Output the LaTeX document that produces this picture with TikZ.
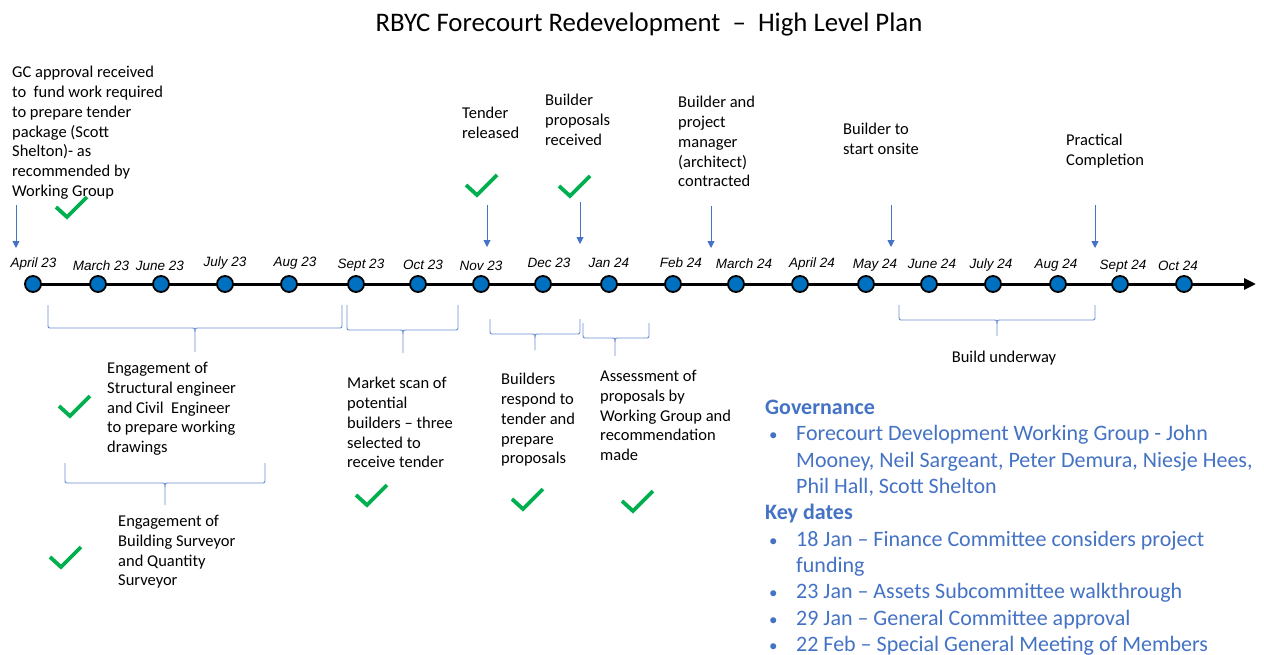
\documentclass[tikz,border=0pt]{standalone}
\usepackage{fontspec}
\setmainfont{Carlito}
\newfontfamily\datefont{Liberation Sans}
\usetikzlibrary{arrows.meta}
\definecolor{dotblue}{HTML}{0070C0}
\definecolor{linkblue}{HTML}{4472C4}
\definecolor{tickgreen}{HTML}{00B050}

% curly bracket hanging under a span: x-left, x-right, x-tip, y-top, y-bar, y-tip
\newcommand{\spanbrace}[6]{%
  \draw[bracestyle] (#1,#4) -- (#1,{#5-4}) .. controls (#1,#5) .. ({#1+4},#5)
    -- ({#3-4},#5) .. controls (#3,#5) .. (#3,{#5+4}) -- (#3,#6);
  \draw[bracestyle] (#2,#4) -- (#2,{#5-4}) .. controls (#2,#5) .. ({#2-4},#5)
    -- ({#3+4},#5) .. controls (#3,#5) .. (#3,{#5+4});
}

\begin{document}
\begin{tikzpicture}[x=1pt,y=-1pt,
  dot/.style={circle, fill=dotblue, draw=black, line width=1.8pt, minimum size=16pt, inner sep=0pt},
  datelbl/.style={font=\datefont\itshape\fontsize{13.5}{15}\selectfont, inner sep=0pt},
  note/.style={font=\fontsize{16.5}{19.8}\selectfont, align=left, anchor=north west, inner sep=0pt},
  pointer/.style={draw=linkblue, line width=0.9pt, -{Triangle[width=7pt,length=7pt]}},
  bracestyle/.style={draw=linkblue!80, line width=0.9pt},
  tick/.pic={\draw[tickgreen, line width=3.8pt] (-11,-10) -- (0,0) -- (20,-20);}
]
\clip (0,0) rectangle (1264,654);
\fill[white] (0,0) rectangle (1264,654);

% title
\node[inner sep=0pt] (title) at (649,24) {\fontsize{26.8}{30}\selectfont RBYC Forecourt Redevelopment\ \ –\ \ High Level Plan};

% timeline axis
\coordinate (tlstart) at (33,284);
\coordinate (tlend) at (1256,284);
\draw[line width=3pt, -{Triangle[width=11pt,length=12pt]}] (tlstart) -- (tlend);

% month markers and their labels
\foreach \x/\lx/\ly/\t [count=\i] in {
  33/33.5/264/April 23, 98/101/266/March 23, 161/160/266/June 23,
  225/225/263/July 23, 289/295/263/Aug 23, 356/361/265/Sept 23,
  418/423/265/Oct 23, 481/481/266/Nov 23, 543/549/263/Dec 23,
  609/609/263/Jan 24, 673/681/263/Feb 24, 736/744/264/March 24,
  800/812/264/April 24, 866/875/265/May 24, 929/932/264/June 24,
  993/991/265/July 24, 1058/1056/265/Aug 24, 1120/1123/266/Sept 24,
  1184/1178/266/Oct 24} {
  \node[dot] (m\i) at (\x,284) {};
  \node[datelbl] (l\i) at (\lx,\ly) {\t};
}

% milestone notes above the axis
\node[note] (gc) at (12,66) {GC approval received\\to\ \ fund work required\\to prepare tender\\package (Scott\\Shelton)- as\\recommended by\\Working Group};
\node[note] (tender) at (462,107) {Tender\\released};
\node[note] (props) at (545,94) {Builder\\proposals\\received};
\node[note] (contract) at (678,96) {Builder and\\project\\manager\\(architect)\\contracted};
\node[note] (onsite) at (843,123) {Builder to\\start onsite};
\node[note] (complete) at (1066,134) {Practical\\Completion};

% pointers to the axis
\coordinate (p1s) at (16,205);   \coordinate (p1e) at (16,248);
\coordinate (p2s) at (487,205);  \coordinate (p2e) at (487,247);
\coordinate (p3s) at (580,202);  \coordinate (p3e) at (580,244);
\coordinate (p4s) at (711,206);  \coordinate (p4e) at (711,248);
\coordinate (p5s) at (891,205);  \coordinate (p5e) at (891,247);
\coordinate (p6s) at (1095,205); \coordinate (p6e) at (1095,248);
\foreach \k in {1,...,6} {\draw[pointer] (p\k s) -- (p\k e);}

% activity spans below the axis
\spanbrace{48}{342}{195}{305}{328}{352}
\spanbrace{347}{458}{403}{305}{330}{353}
\spanbrace{490}{580}{535}{319}{334}{350}
\spanbrace{583}{649}{615}{323}{338}{356}
\spanbrace{65}{265}{165}{463}{483}{505}
\spanbrace{899}{1095}{997}{305}{320}{336}

\node[note] (struct) at (107,362) {Engagement of\\Structural engineer\\and Civil\ \ Engineer\\to prepare working\\drawings};
\node[note] (scan) at (347,377) {Market scan of\\potential\\builders – three\\selected to\\receive tender};
\node[note] (respond) at (501,373) {Builders\\respond to\\tender and\\prepare\\proposals};
\node[note] (assess) at (600,370) {Assessment of\\proposals by\\Working Group and\\recommendation\\made};
\node[note] (survey) at (118,515) {Engagement of\\Building Surveyor\\and Quantity\\Surveyor};
\node[note, anchor=center] (build) at (1004,358) {Build underway};

% completed items
\foreach \px/\py in {67/217, 477/195, 570/196, 70/416, 367/505, 61/567, 523/509, 633/511}
  \pic at (\px,\py) {tick};

% governance panel
\node[anchor=north west, inner sep=0pt, align=left, text=linkblue,
      font=\fontsize{22}{26.3}\selectfont] (gov) at (765,400) {%
  \textbf{Governance}\\
  \hspace*{4pt}\makebox[27pt][l]{\fontsize{17}{20}\selectfont •}Forecourt Development Working Group - John\\
  \hspace*{31pt}Mooney, Neil Sargeant, Peter Demura, Niesje Hees,\\
  \hspace*{31pt}Phil Hall, Scott Shelton\\
  \textbf{Key dates}\\
  \hspace*{4pt}\makebox[27pt][l]{\fontsize{17}{20}\selectfont •}18 Jan – Finance Committee considers project\\
  \hspace*{31pt}funding\\
  \hspace*{4pt}\makebox[27pt][l]{\fontsize{17}{20}\selectfont •}23 Jan – Assets Subcommittee walkthrough\\
  \hspace*{4pt}\makebox[27pt][l]{\fontsize{17}{20}\selectfont •}29 Jan – General Committee approval\\
  \hspace*{4pt}\makebox[27pt][l]{\fontsize{17}{20}\selectfont •}22 Feb – Special General Meeting of Members};
\end{tikzpicture}
\end{document}
